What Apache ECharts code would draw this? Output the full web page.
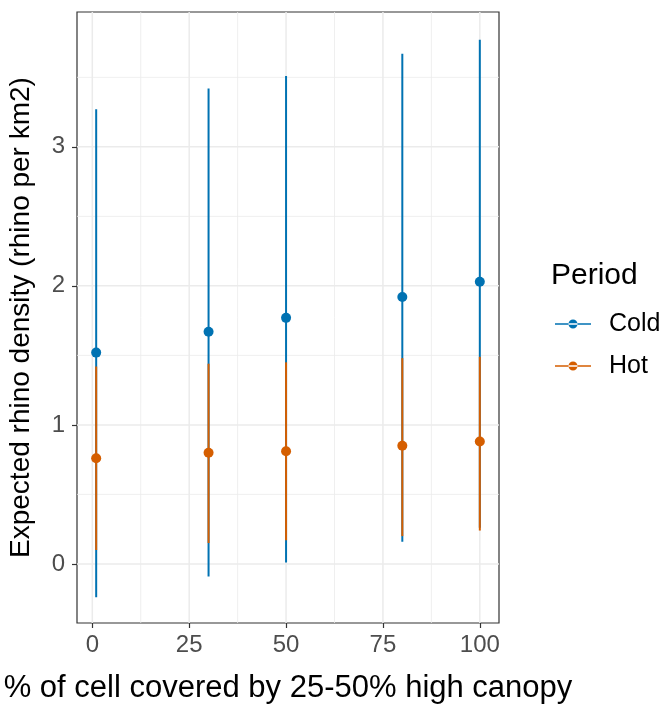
<!DOCTYPE html>
<html>
<head>
<meta charset="utf-8">
<script src="https://cdn.jsdelivr.net/npm/echarts@6/dist/echarts.min.js"></script>
<style>
  html, body { margin: 0; padding: 0; background: #fff; }
  #chart { width: 662px; height: 704px; }
</style>
</head>
<body>
<div id="chart"></div>
<script>
// cover levels (% of cell)
const coverLevels = [1, 30, 50, 80, 100];

// Cold period
const coldMean = [1.52, 1.67, 1.77, 1.92, 2.03];
const coldLow = [-0.24, -0.09, 0.01, 0.16, 0.26];
const coldHigh = [3.27, 3.42, 3.51, 3.67, 3.77];

// Hot period
const hotMean = [0.76, 0.80, 0.81, 0.85, 0.88];
const hotLow = [0.10, 0.15, 0.17, 0.20, 0.24];
const hotHigh = [1.42, 1.44, 1.45, 1.48, 1.49];

const xTicks = [0, 25, 50, 75, 100];
const xMinor = [12.5, 37.5, 62.5, 87.5];
const yTicks = [0, 1, 2, 3];
const yMinor = [0.5, 1.5, 2.5, 3.5];

const X_MIN = -3.95, X_MAX = 104.95;
const Y_MIN = -0.425, Y_MAX = 3.97;

const COLD = '#0072B2';
const HOT = '#D55E00';
const FONT = '"Liberation Sans", Arial, sans-serif';

const chart = echarts.init(document.getElementById('chart'), null, { renderer: 'canvas' });

const barSeries = (name, low, high, color) => ({
    name: name,
    type: 'custom',
    z: 3,
    data: coverLevels.map((x, i) => [x, low[i], high[i]]),
    encode: { x: 0, y: [1, 2] },
    renderItem: (params, api) => {
        const p1 = api.coord([api.value(0), api.value(1)]);
        const p2 = api.coord([api.value(0), api.value(2)]);
        return {
            type: 'line',
            shape: { x1: p1[0], y1: p1[1], x2: p2[0], y2: p2[1] },
            style: { stroke: color, lineWidth: 2 }
        };
    }
});

const pointSeries = (name, mean, color) => ({
    name: name,
    type: 'scatter',
    z: 4,
    symbol: 'circle',
    symbolSize: 10,
    itemStyle: { color: color, opacity: 1 },
    data: coverLevels.map((x, i) => [x, mean[i]])
});

// grid lines: [axis (0 = vertical at x, 1 = horizontal at y), value, width]
const gridData = [
    ...xTicks.map(v => [0, v, 1.5]),
    ...xMinor.map(v => [0, v, 0.8]),
    ...yTicks.map(v => [1, v, 1.5]),
    ...yMinor.map(v => [1, v, 0.8])
];

chart.setOption({
    animation: false,
    backgroundColor: '#fff',
    textStyle: { fontFamily: FONT },
    title: {
        text: 'Period',
        left: 546,
        top: 256,
        textStyle: { fontSize: 30, fontWeight: 'normal', color: '#000', fontFamily: FONT }
    },
    legend: {
        data: ['Cold', 'Hot'],
        orient: 'vertical',
        left: 550,
        top: 306,
        itemWidth: 36,
        itemHeight: 9,
        itemGap: 16,
        icon: 'path://M0,4.2h36v1.6H0z M13.5,5a4.5,4.5 0 1,0 9,0a4.5,4.5 0 1,0 -9,0z',
        textStyle: { fontSize: 25, color: '#000', fontFamily: FONT, padding: [0, 0, 0, 13], lineHeight: 26 }
    },
    grid: {
        left: 77,
        right: 163,
        top: 12,
        bottom: 81,
        outerBoundsMode: 'none',
        containLabel: false,
        show: true,
        borderColor: '#333',
        borderWidth: 1.2,
        backgroundColor: 'transparent'
    },
    xAxis: {
        type: 'value',
        min: X_MIN,
        max: X_MAX,
        name: '% of cell covered by 25-50% high canopy',
        nameLocation: 'middle',
        nameGap: 50,
        nameTextStyle: { fontSize: 31, color: '#000', fontFamily: FONT },
        axisLine: { show: false, onZero: false },
        axisTick: { show: true, length: 5, customValues: xTicks, lineStyle: { color: '#333', width: 1.2 } },
        axisLabel: { customValues: xTicks, fontSize: 24, color: '#4d4d4d', margin: 10, fontFamily: FONT },
        splitLine: { show: false }
    },
    yAxis: {
        type: 'value',
        min: Y_MIN,
        max: Y_MAX,
        name: 'Expected rhino density (rhino per km2)',
        nameLocation: 'middle',
        nameRotate: 90,
        nameGap: 42,
        nameTextStyle: { fontSize: 28, color: '#000', fontFamily: FONT },
        axisLine: { show: false, onZero: false },
        axisTick: { show: true, length: 5, customValues: yTicks, lineStyle: { color: '#333', width: 1.2 } },
        axisLabel: { customValues: yTicks, fontSize: 24, color: '#4d4d4d', margin: 12, fontFamily: FONT },
        splitLine: { show: false }
    },
    series: [
        {
            name: 'grid',
            type: 'custom',
            z: 1,
            silent: true,
            data: gridData,
            encode: { x: 1 },
            clip: true,
            renderItem: (params, api) => {
                const dir = api.value(0), v = api.value(1), w = api.value(2);
                let a, b;
                if (dir === 0) {
                    a = api.coord([v, Y_MIN]);
                    b = api.coord([v, Y_MAX]);
                } else {
                    a = api.coord([X_MIN, v]);
                    b = api.coord([X_MAX, v]);
                }
                return {
                    type: 'line',
                    shape: { x1: a[0], y1: a[1], x2: b[0], y2: b[1] },
                    style: { stroke: '#ebebeb', lineWidth: w }
                };
            }
        },
        barSeries('Cold bars', coldLow, coldHigh, COLD),
        pointSeries('Cold', coldMean, COLD),
        barSeries('Hot bars', hotLow, hotHigh, HOT),
        pointSeries('Hot', hotMean, HOT)
    ]
});
</script>
</body>
</html>
